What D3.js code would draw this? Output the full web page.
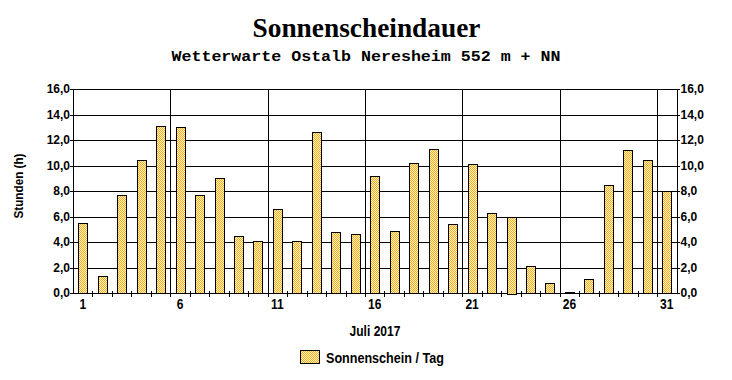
<!DOCTYPE html>
<html><head><meta charset="utf-8">
<script src="https://cdn.jsdelivr.net/npm/d3@7/dist/d3.min.js"></script>
<style>
html,body{margin:0;padding:0;background:#fff;}
svg{display:block;}
text{font-family:"Liberation Sans",Arial,sans-serif;font-weight:bold;fill:#000;}
</style></head>
<body>
<svg id="chart" width="732" height="380"></svg>
<script>
const days = d3.range(1, 32);
const sunshine = [5.5,1.3,7.7,10.4,13.1,13.0,7.7,9.0,4.5,4.1,6.6,4.1,12.6,4.8,4.6,9.2,4.9,10.2,11.3,5.4,10.1,6.3,6.0,2.1,0.8,0.1,1.1,8.5,11.2,10.4,8.0];
const xTickLabels = [1,6,11,16,21,26,31];
const yTicks = [0,2,4,6,8,10,12,14,16];
const titleText = "Sonnenscheindauer";
const subtitleText = "Wetterwarte Ostalb Neresheim 552 m + NN";
const xAxisTitle = "Juli 2017";
const yAxisTitle = "Stunden  (h)";
const legendLabel = "Sonnenschein / Tag";

const svg = d3.select("#chart");
const L = 73, R = 676.5, T = 89, B = 293;

const x = d3.scaleBand().domain(days).range([L, R]).padding(0);
const y = d3.scaleLinear().domain([0, 16]).range([B, T]);
const fmt = v => d3.format(".1f")(v).replace(".", ",");

// narrow-looking text: larger font, horizontally compressed
function narrow(sel, px, py, size, anchor, str, sx) {
  sx = sx || 0.86;
  return sel.append("text")
    .attr("transform", `translate(${px},${py}) scale(${sx},1)`)
    .attr("text-anchor", anchor).style("font-size", size + "px").text(str);
}

// pattern
const defs = svg.append("defs");
const pat = defs.append("pattern").attr("id","dither").attr("width",2).attr("height",2).attr("patternUnits","userSpaceOnUse");
pat.append("rect").attr("width",2).attr("height",2).attr("fill","#FFF8C8");
pat.append("rect").attr("x",0).attr("y",0).attr("width",1).attr("height",1).attr("fill","#FFA818");
pat.append("rect").attr("x",1).attr("y",1).attr("width",1).attr("height",1).attr("fill","#FFA818");

// title
svg.append("text").attr("x",366.5).attr("y",37).attr("text-anchor","middle")
  .style("font-family","'Liberation Serif','Times New Roman',serif").style("font-size","28px")
  .attr("textLength",228).attr("lengthAdjust","spacingAndGlyphs").text(titleText);
svg.append("text").attr("x",366).attr("y",61).attr("text-anchor","middle")
  .style("font-family","'Liberation Mono','Courier New',monospace").style("font-size","15px")
  .attr("textLength",389).attr("lengthAdjust","spacingAndGlyphs").text(subtitleText);

const g = svg.append("g").attr("shape-rendering","crispEdges");

// horizontal grid
g.selectAll("line.h").data(yTicks).join("line")
  .attr("x1",L-3).attr("x2",R+3).attr("y1",d=>Math.round(y(d))+0.5).attr("y2",d=>Math.round(y(d))+0.5)
  .attr("stroke","#000").attr("stroke-width",1);
// vertical grid at band start of labelled days
g.selectAll("line.v").data(xTickLabels).join("line")
  .attr("x1",d=>Math.round(x(d))+0.5).attr("x2",d=>Math.round(x(d))+0.5)
  .attr("y1",T).attr("y2",B).attr("stroke","#000");
// axes frame
g.append("line").attr("x1",L+0.5).attr("x2",L+0.5).attr("y1",T).attr("y2",B+1).attr("stroke","#000");
g.append("line").attr("x1",R+0.5).attr("x2",R+0.5).attr("y1",T).attr("y2",B+1).attr("stroke","#000");
// minor ticks at band boundaries
g.selectAll("line.m").data(days.slice(1)).join("line")
  .attr("x1",d=>Math.round(x(d))+0.5).attr("x2",d=>Math.round(x(d))+0.5)
  .attr("y1",B-2).attr("y2",B+4).attr("stroke","#000");

// bars
const bw = 9;
svg.append("g").selectAll("rect").data(days).join("rect")
  .attr("x", d => Math.round(x(d) + x.bandwidth()/2 - bw/2) + 0.5)
  .attr("y", (d,i) => Math.round(y(sunshine[i])) + 0.5)
  .attr("width", bw)
  .attr("height", (d,i) => Math.max(0, Math.round(B - y(sunshine[i]))))
  .attr("fill","url(#dither)").attr("stroke","#000").attr("stroke-width",1.5)
  .attr("shape-rendering","crispEdges");

// y labels
svg.selectAll("text.yl").data(yTicks).join("text").attr("class","yl")
  .attr("x",L-3).attr("y",d=>y(d)+4).attr("text-anchor","end").style("font-size","12px").text(fmt);
svg.selectAll("text.yr").data(yTicks).join("text").attr("class","yr")
  .attr("x",R+4).attr("y",d=>y(d)+4).attr("text-anchor","start").style("font-size","12px").text(fmt);

// x labels
xTickLabels.forEach(d => narrow(svg, x(d)+x.bandwidth()/2, 309, 14, "middle", d));

narrow(svg, 375, 336, 14, "middle", xAxisTitle);
svg.append("text").attr("transform","translate(23,186) rotate(-90) scale(0.9,1)").attr("text-anchor","middle").style("font-size","13px").text(yAxisTitle);

// legend
svg.append("rect").attr("x",300.5).attr("y",350.5).attr("width",19).attr("height",13)
  .attr("fill","url(#dither)").attr("stroke","#000").attr("stroke-width",1.5).attr("shape-rendering","crispEdges");
narrow(svg, 326, 363, 14, "start", legendLabel, 0.9);
</script>
</body></html>
